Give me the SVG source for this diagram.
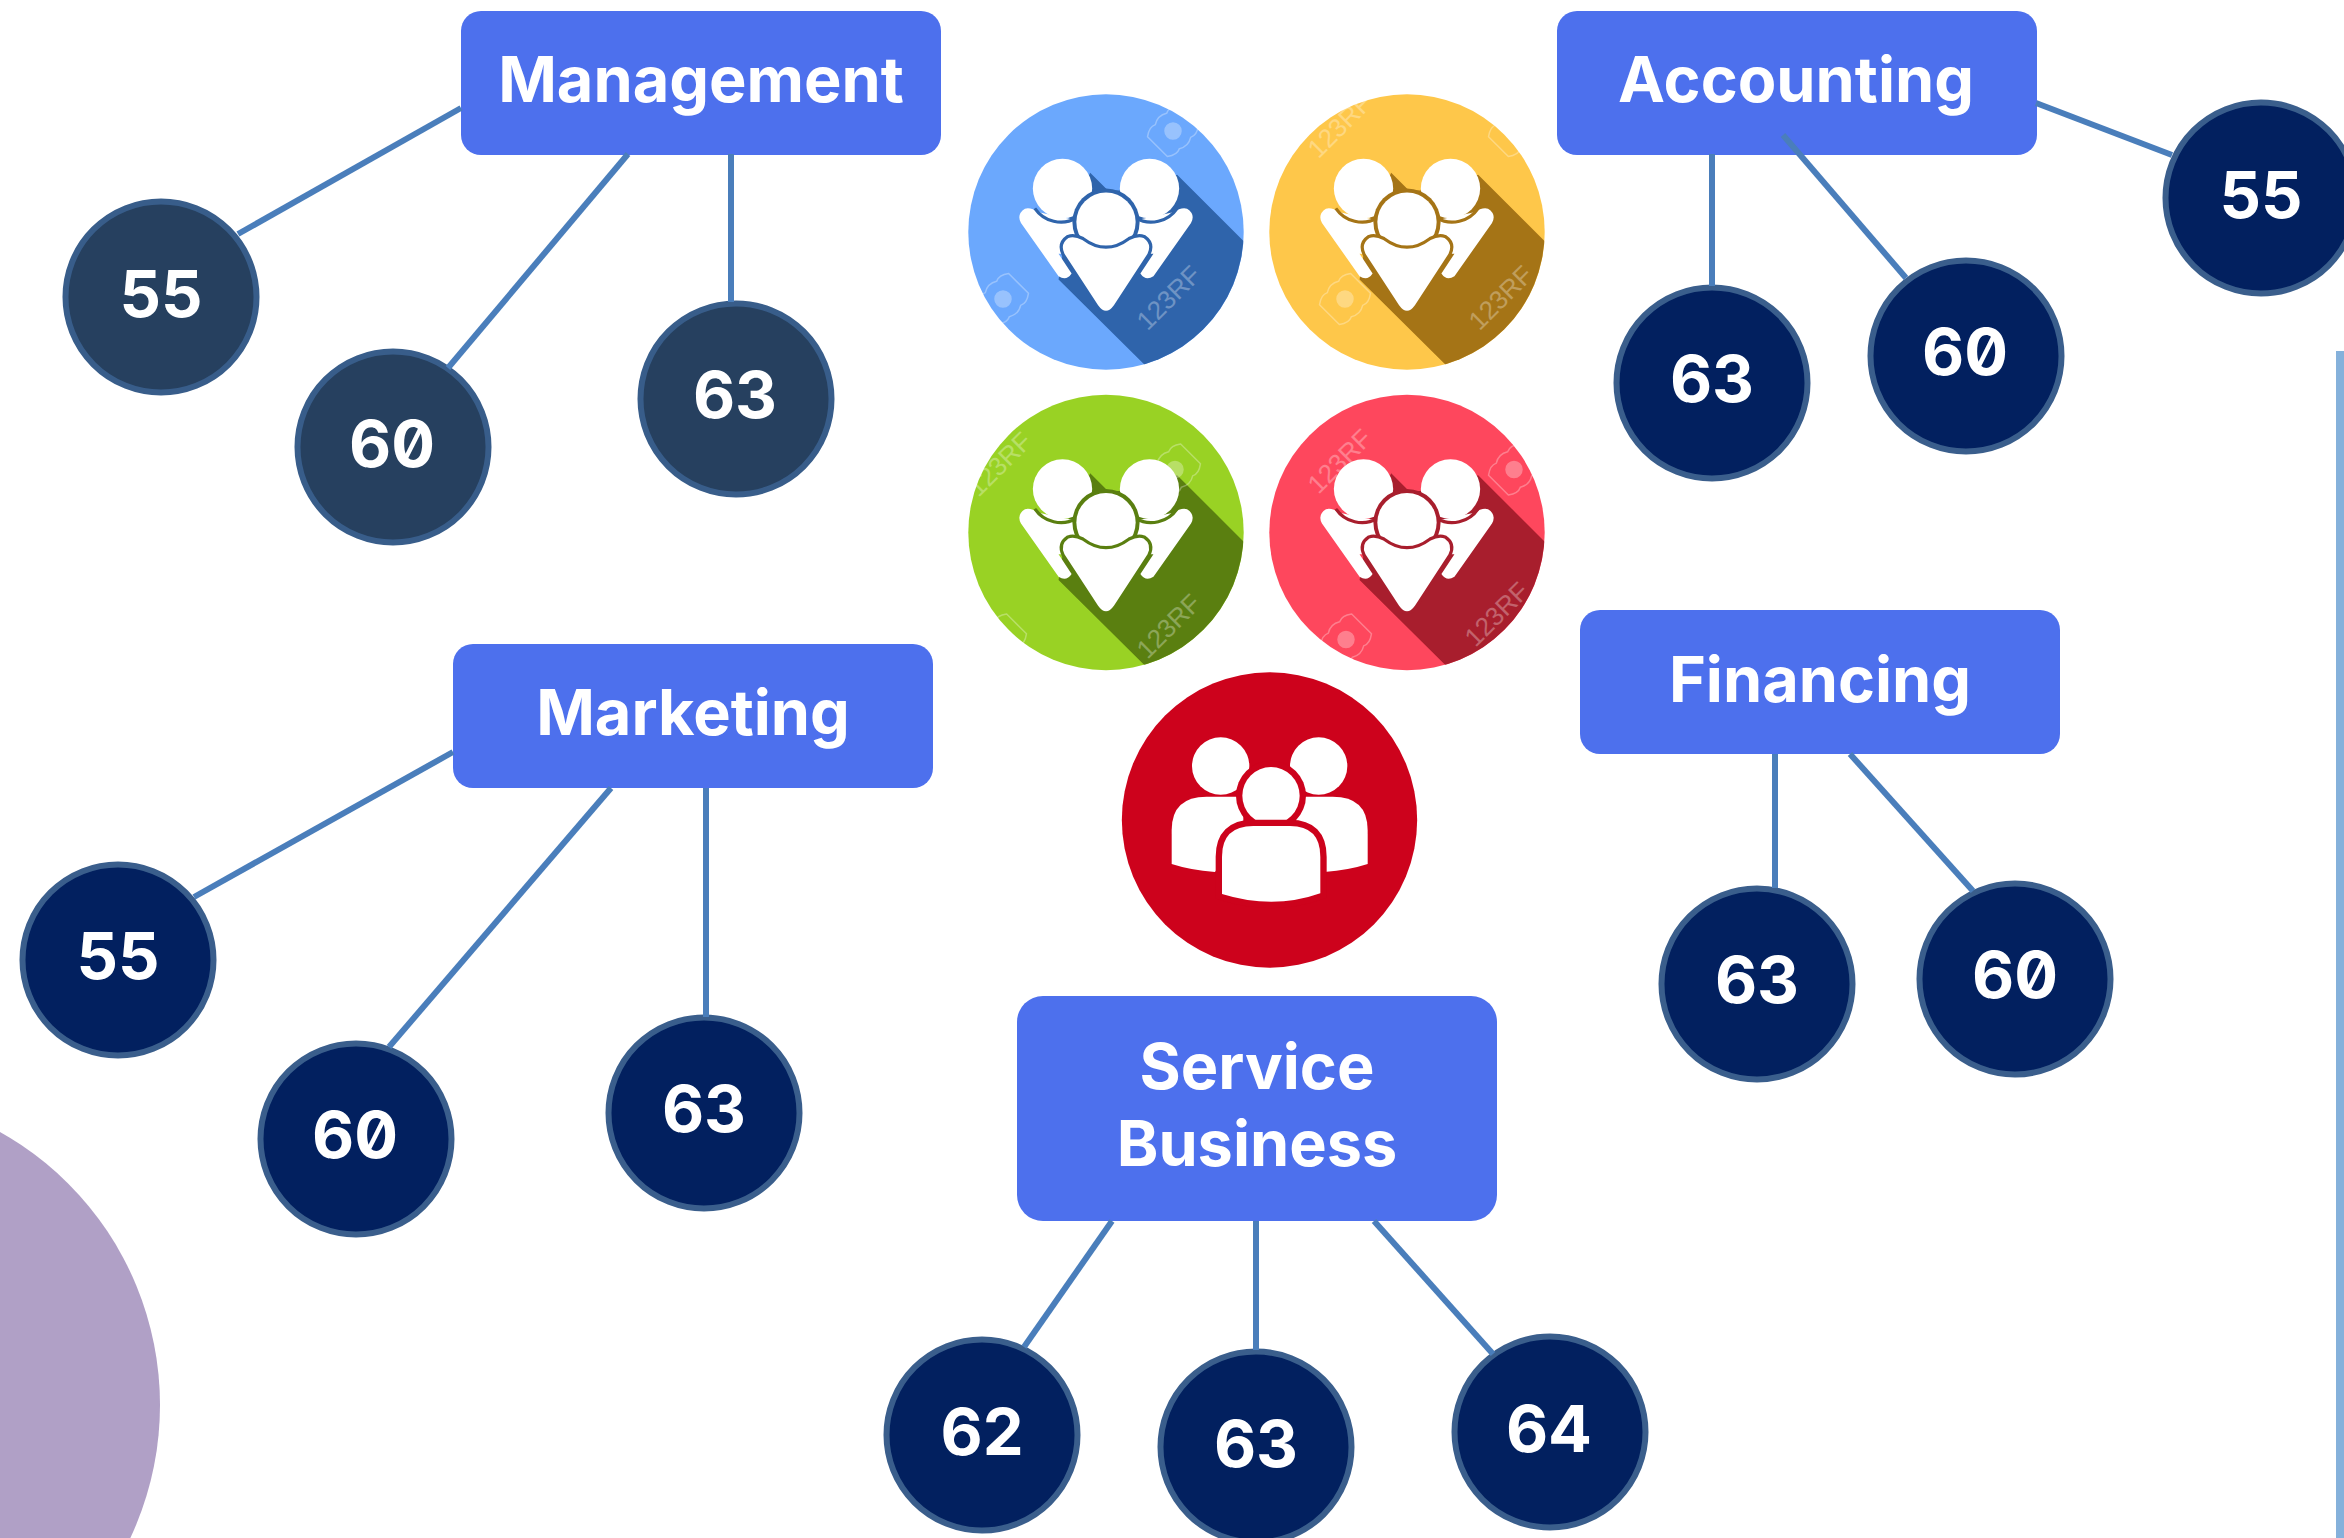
<svg xmlns="http://www.w3.org/2000/svg" width="2344" height="1538" viewBox="0 0 2344 1538">
<defs>
<style>
.box{fill:#4d70ed}
.t{font-family:Inter,"Noto Sans","Liberation Sans",sans-serif;font-weight:700;fill:#fff;text-anchor:middle;font-size:63px;font-variant-numeric:slashed-zero}
.n{font-size:65px}
.c1{fill:#26405f;stroke:#385d8a;stroke-width:6}
.c2{fill:#02205f;stroke:#3a5e8c;stroke-width:6}
.con line{stroke:#4a7ebb;stroke-width:6}
.wm{font-family:"Liberation Sans",sans-serif;font-size:26px;fill:#fff;opacity:.3;text-anchor:middle}
.ring{fill:currentColor}
</style>
<clipPath id="disc"><circle r="348"/></clipPath>
<g id="side">
<path fill="#fff" d="M-215,-23Q-227,-45-205,-59Q-190,-63-170,-50L-75,-30L-65,55L-120,55L-87,105Q-100,125-120,112Z"/>
<path d="M-180,-60A80,80 0 0 0-75,-35" fill="none" stroke="currentColor" stroke-width="8"/>
<circle cx="-110" cy="-110" r="75" fill="#fff"/>
</g>
<g id="flat-icon">
<polygon class="ring" clip-path="url(#disc)" points="-120,120 -95,-35 -40,-150 5,-105 37,-105 180,-145 375,50 375,415 180,418 95,333"/>
<use href="#side"/>
<use href="#side" transform="scale(-1,1)"/>
<circle cy="-25" r="85" class="ring"/>
<circle cy="-25" r="75" fill="#fff"/>
<path fill="#fff" stroke="currentColor" stroke-width="16" paint-order="stroke" d="M-105,55Q-117,30-95,15Q-80,10-60,20Q0,65 60,20Q80,10 95,15Q117,30 105,55L20,185Q0,213-20,185Z"/>
</g>
<g id="mark" fill="none" stroke="#fff" stroke-width="1.5" opacity=".3">
<path transform="rotate(-45)" d="M-22,-14Q-14,-20-8,-17Q0,-22 8,-17Q14,-20 22,-14L22,14Q14,20 8,17Q0,22-8,17Q-14,20-22,14Z"/>
<circle r="8" fill="#fff"/>
</g>
</defs>
<rect width="2344" height="1538" fill="#fff"/>
<circle id="bg-circle" cx="-153" cy="1405" r="313" fill="#b0a0c6"/>
<rect id="bg-bar" x="2336" y="351" width="8" height="1187" fill="#85b1db"/>

<g id="icon-blue" transform="translate(1106,232)"><circle r="137.7" fill="#6ba8fd"/><use href="#flat-icon" transform="scale(.3954)" style="color:#2f64ab"/><use href="#mark" x="-103" y="67"/><use href="#mark" x="67" y="-101"/><text class="wm" x="-104" y="-103" transform="rotate(-45 -104 -103)">123RF</text><text class="wm" x="69" y="72" transform="rotate(-45 69 72)">123RF</text></g>
<g id="icon-yellow" transform="translate(1407,232)"><circle r="137.7" fill="#fec74a"/><use href="#flat-icon" transform="scale(.3954)" style="color:#a57416"/><use href="#mark" x="-62" y="67"/><use href="#mark" x="107" y="-101"/><text class="wm" x="-61" y="-100" transform="rotate(-45 -61 -100)">123RF</text><text class="wm" x="100" y="72" transform="rotate(-45 100 72)">123RF</text></g>
<g id="icon-green" transform="translate(1106,532.5)"><circle r="137.7" fill="#99d224"/><use href="#flat-icon" transform="scale(.3954)" style="color:#5a7f10"/><use href="#mark" x="-105" y="107"/><use href="#mark" x="69" y="-63"/><text class="wm" x="-100" y="-62" transform="rotate(-45 -100 -62)">123RF</text><text class="wm" x="69" y="100" transform="rotate(-45 69 100)">123RF</text></g>
<g id="icon-red" transform="translate(1407,532.5)"><circle r="137.7" fill="#fe475d"/><use href="#flat-icon" transform="scale(.3954)" style="color:#a81e2d"/><use href="#mark" x="-61" y="107"/><use href="#mark" x="107" y="-63"/><text class="wm" x="-61" y="-65" transform="rotate(-45 -61 -65)">123RF</text><text class="wm" x="96" y="88" transform="rotate(-45 96 88)">123RF</text></g>

<g id="icon-team" transform="translate(1100,660) scale(.33333)">
<circle cx="508.500" cy="480" r="443" fill="#cd021c"/>
<g id="team-side" fill="#fff">
<circle cx="362" cy="318" r="86"/>
<path d="M215,612L215,510Q215,410 320,410L430,410L430,520L345,636Q270,630 215,612Z"/>
</g>
<use href="#team-side" transform="translate(1018,0) scale(-1,1)"/>
<circle cx="513" cy="407" r="105" fill="#cd021c"/>
<circle cx="513" cy="407" r="86" fill="#fff"/>
<path fill="#fff" stroke="#cd021c" stroke-width="38" paint-order="stroke" d="M366,702L366,590Q366,498 460,498L570,498Q661,498 661,590L661,700Q520,750 366,702Z"/>
</g>

<g id="node-management"><rect class="box" x="461" y="11" width="480" height="144" rx="20"/><text class="t" x="701" y="102">Management</text></g>
<g id="node-accounting"><rect class="box" x="1557" y="11" width="480" height="144" rx="20"/><text class="t" x="1796" y="102">Accounting</text></g>
<g id="node-marketing"><rect class="box" x="453" y="644" width="480" height="144" rx="20"/><text class="t" x="693" y="735">Marketing</text></g>
<g id="node-financing"><rect class="box" x="1580" y="610" width="480" height="144" rx="20"/><text class="t" x="1820" y="702">Financing</text></g>
<g id="node-service"><rect class="box" x="1017" y="996" width="480" height="225" rx="26"/><text class="t" x="1257" y="1089">Service</text><text class="t" x="1257" y="1166">Business</text></g>

<g id="m55"><circle class="c1" cx="161" cy="297" r="95.500"/><text class="t n" x="161" y="317">55</text></g>
<g id="m60"><circle class="c1" cx="393" cy="447" r="95.500"/><text class="t n" x="392" y="467">60</text></g>
<g id="m63"><circle class="c1" cx="736" cy="399" r="95.500"/><text class="t n" x="735" y="418">63</text></g>
<g id="a63"><circle class="c2" cx="1712" cy="383" r="95.500"/><text class="t n" x="1712" y="402">63</text></g>
<g id="a60"><circle class="c2" cx="1966" cy="356" r="95.500"/><text class="t n" x="1965" y="375">60</text></g>
<g id="a55"><circle class="c2" cx="2261" cy="198" r="95.500"/><text class="t n" x="2261" y="218">55</text></g>
<g id="f63"><circle class="c2" cx="1757" cy="984" r="95.500"/><text class="t n" x="1757" y="1003">63</text></g>
<g id="f60"><circle class="c2" cx="2015" cy="979" r="95.500"/><text class="t n" x="2015" y="998">60</text></g>
<g id="k55"><circle class="c2" cx="118" cy="960" r="95.500"/><text class="t n" x="118" y="979">55</text></g>
<g id="k60"><circle class="c2" cx="356" cy="1139" r="95.500"/><text class="t n" x="355" y="1158">60</text></g>
<g id="k63"><circle class="c2" cx="704" cy="1113" r="95.500"/><text class="t n" x="704" y="1132">63</text></g>
<g id="s62"><circle class="c2" cx="982" cy="1435" r="95.500"/><text class="t n" x="982" y="1455">62</text></g>
<g id="s63"><circle class="c2" cx="1256" cy="1447" r="95.500"/><text class="t n" x="1256" y="1467">63</text></g>
<g id="s64"><circle class="c2" cx="1550" cy="1432" r="95.500"/><text class="t n" x="1549" y="1452">64</text></g>

<g id="connectors" class="con">
<line x1="461" y1="108" x2="238" y2="234"/>
<line x1="628" y1="154" x2="448" y2="368"/>
<line x1="731" y1="154" x2="731" y2="302"/>
<line x1="453" y1="752" x2="194" y2="897"/>
<line x1="611" y1="788" x2="389" y2="1047"/>
<line x1="706" y1="788" x2="706" y2="1017"/>
<line x1="1712" y1="154" x2="1712" y2="286"/>
<line x1="1783" y1="135" x2="1906" y2="278"/>
<line x1="2036" y1="103" x2="2172" y2="155"/>
<line x1="1775" y1="754" x2="1775" y2="888"/>
<line x1="1850" y1="754" x2="1973" y2="891"/>
<line x1="1112" y1="1221" x2="1024" y2="1347"/>
<line x1="1256" y1="1221" x2="1256" y2="1350"/>
<line x1="1374" y1="1221" x2="1493" y2="1354"/>
</g>
</svg>
